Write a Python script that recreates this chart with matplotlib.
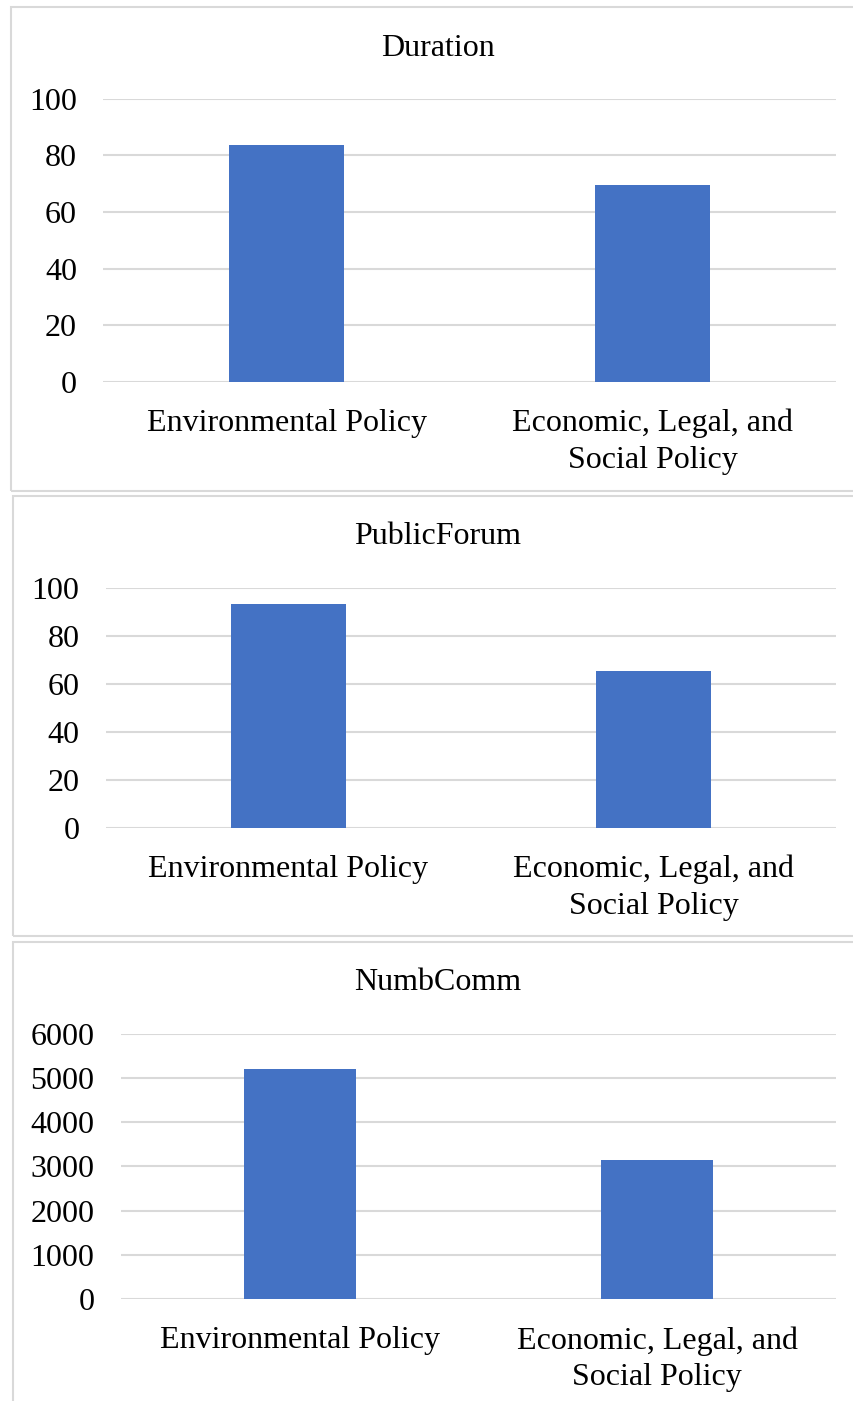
import matplotlib
matplotlib.use("Agg")
import matplotlib.pyplot as plt
from matplotlib.patches import Rectangle

plt.rcParams['font.family'] = ['Liberation Serif', 'DejaVu Serif']

categories = ["Environmental Policy", "Economic, Legal, and\nSocial Policy"]
duration = [83.5, 69.4]
public_forum = [93.3, 65.3]
numb_comm = [5200, 3140]

titles = ["Duration", "PublicForum", "NumbComm"]
series = [duration, public_forum, numb_comm]
y_ticks = [[0, 20, 40, 60, 80, 100],
           [0, 20, 40, 60, 80, 100],
           [0, 1000, 2000, 3000, 4000, 5000, 6000]]

W, H = 854, 1401
BAR = "#4472C4"
GRID = "#d9d9d9"
FS = 23

fig = plt.figure(figsize=(W / 100, H / 100), dpi=100)
fig.patch.set_facecolor("white")

# pixel layout: frame box, plot area, title y
frames = [(11, 7, 860, 491), (13, 496, 860, 936), (13, 942, 860, 1410)]
plots = [(103.5, 98.7, 836, 381.7), (106, 588.3, 836, 827.7), (121, 1033.7, 836, 1299)]
title_y = [48, 537, 983]


def px_axes(l, t, r, b):
    return fig.add_axes([l / W, 1 - b / H, (r - l) / W, (b - t) / H])


for i in range(3):
    fl, ft, fr, fb = frames[i]
    fig.patches.append(Rectangle((fl / W, 1 - fb / H), (fr - fl) / W, (fb - ft) / H,
                                 transform=fig.transFigure, fill=False,
                                 edgecolor=GRID, linewidth=1.5))

    ax = px_axes(*plots[i])
    ax.bar([0, 1], series[i], width=0.314, color=BAR, zorder=3)
    ax.set_xlim(-0.5, 1.5)
    ax.set_ylim(0, y_ticks[i][-1])
    ax.set_yticks(y_ticks[i])
    ax.set_xticks([0, 1])
    ax.set_xticklabels(categories, fontsize=FS, linespacing=1.35)
    ax.tick_params(axis="y", length=0, pad=19, labelsize=FS)
    ax.tick_params(axis="x", length=0, pad=19.5)
    ax.grid(axis="y", color=GRID, linewidth=1.5, zorder=0)
    ax.set_axisbelow(True)
    for s in ax.spines.values():
        s.set_visible(False)
    ax.set_facecolor("none")

    fig.text(438 / W, 1 - title_y[i] / H, titles[i], fontsize=FS,
             ha="center", va="center")

fig.savefig("out.png", dpi=100)
